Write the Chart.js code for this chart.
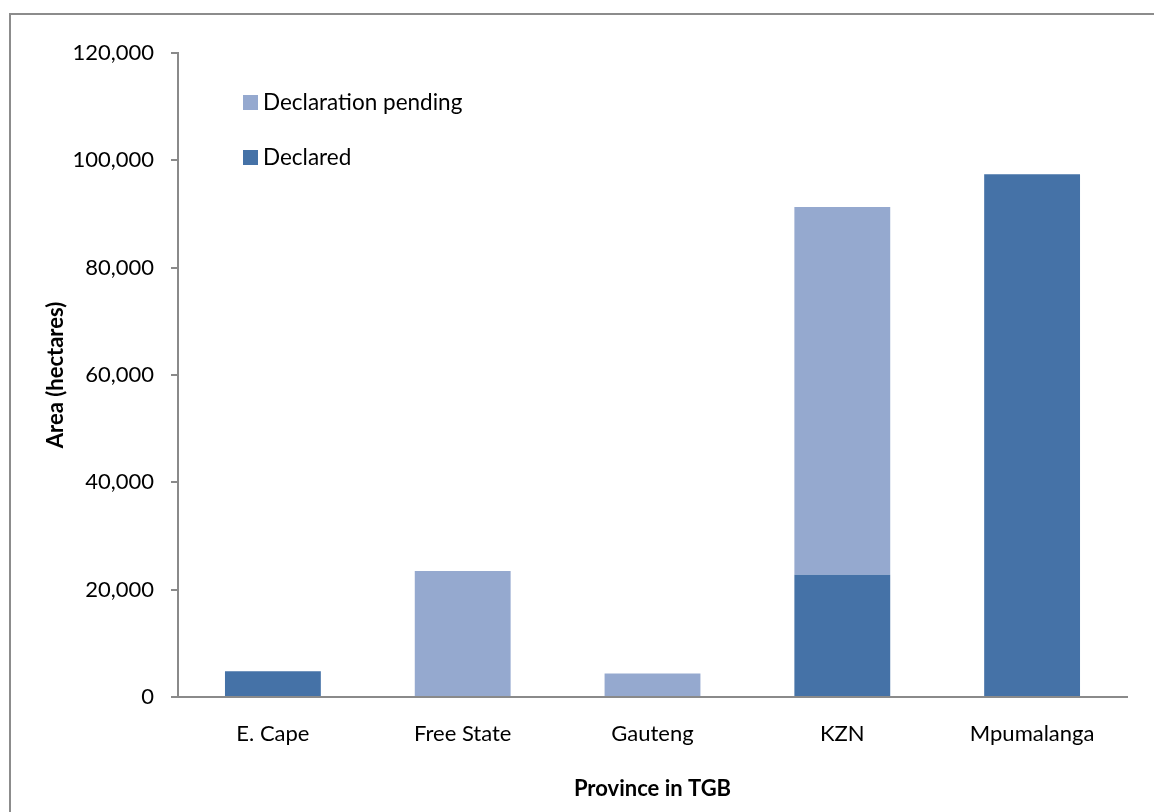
<!DOCTYPE html>
<html>
<head>
<meta charset="utf-8">
<script src="https://cdn.jsdelivr.net/npm/chart.js@4.4.1/dist/chart.umd.min.js"></script>
<style>
  html, body { margin: 0; padding: 0; background: #ffffff; }
  #wrap { position: relative; width: 1154px; height: 812px; }
</style>
</head>
<body>
<div id="wrap"><canvas id="chart" width="1154" height="812"></canvas></div>
<script>
// Protected area by province (hectares)
const provinces = ['E. Cape', 'Free State', 'Gauteng', 'KZN', 'Mpumalanga'];
const declared = [4800, 0, 0, 22800, 97400];
const pending = [0, 23500, 4400, 68500, 0];
const yTicks = [0, 20000, 40000, 60000, 80000, 100000, 120000];

const FONT = 'Lato, "Liberation Sans", sans-serif';
const DARK = '#4572A7';
const LIGHT = '#95A9CF';
const AXIS = '#8a8a8a';

// Frame and legend drawn on the canvas around and inside the plot
const decorations = {
  id: 'decorations',
  afterDraw(chart) {
    const ctx = chart.ctx;
    ctx.save();
    ctx.strokeStyle = '#8c8c8c';
    ctx.lineWidth = 2;
    ctx.strokeRect(10, 14, 1300, 1000);

    const items = [
      { label: chart.data.datasets[1].label, color: chart.data.datasets[1].backgroundColor, y: 102 },
      { label: chart.data.datasets[0].label, color: chart.data.datasets[0].backgroundColor, y: 157 }
    ];
    ctx.font = '22.5px ' + FONT;
    ctx.textBaseline = 'middle';
    ctx.textAlign = 'left';
    items.forEach(it => {
      ctx.fillStyle = it.color;
      ctx.fillRect(243, it.y - 7, 15, 15);
      ctx.fillStyle = '#000000';
      ctx.fillText(it.label, 263, it.y + 1);
    });
    ctx.restore();
  }
};

new Chart(document.getElementById('chart'), {
  type: 'bar',
  data: {
    labels: provinces,
    datasets: [
      { label: 'Declared', data: declared, backgroundColor: DARK, borderWidth: 0 },
      { label: 'Declaration pending', data: pending, backgroundColor: LIGHT, borderWidth: 0 }
    ]
  },
  options: {
    responsive: false,
    animation: false,
    devicePixelRatio: 1,
    layout: { padding: { left: 0, top: 53, right: 27, bottom: 0 } },
    plugins: {
      legend: { display: false },
      tooltip: { enabled: false }
    },
    datasets: {
      bar: { categoryPercentage: 1.0, barPercentage: 0.505 }
    },
    scales: {
      x: {
        stacked: true,
        grid: { display: false },
        border: { display: true, color: AXIS, width: 2 },
        ticks: { color: '#000000', font: { family: FONT, size: 22 }, padding: 16, maxRotation: 0 },
        title: {
          display: true, text: 'Province in TGB', color: '#000000',
          font: { family: FONT, size: 22, weight: 'bold' }, padding: { top: 0, bottom: 10 }
        },
        afterFit(scale) { scale.height = 812 - 697; }
      },
      y: {
        stacked: true,
        min: 0, max: 120000,
        afterBuildTicks(scale) { scale.ticks = yTicks.map(v => ({ value: v })); },
        grid: { drawOnChartArea: false, drawTicks: true, tickLength: 7, color: AXIS, lineWidth: 2 },
        border: { display: true, color: AXIS, width: 2 },
        ticks: {
          color: '#000000', font: { family: FONT, size: 22 }, padding: 17,
          callback: v => Number(v).toLocaleString('en-US')
        },
        title: {
          display: true, text: 'Area (hectares)', color: '#000000',
          font: { family: FONT, size: 22, weight: 'bold' }, padding: { top: 43, bottom: 0 }
        },
        afterFit(scale) { scale.width = 178; }
      }
    }
  },
  plugins: [decorations]
});
</script>
</body>
</html>
